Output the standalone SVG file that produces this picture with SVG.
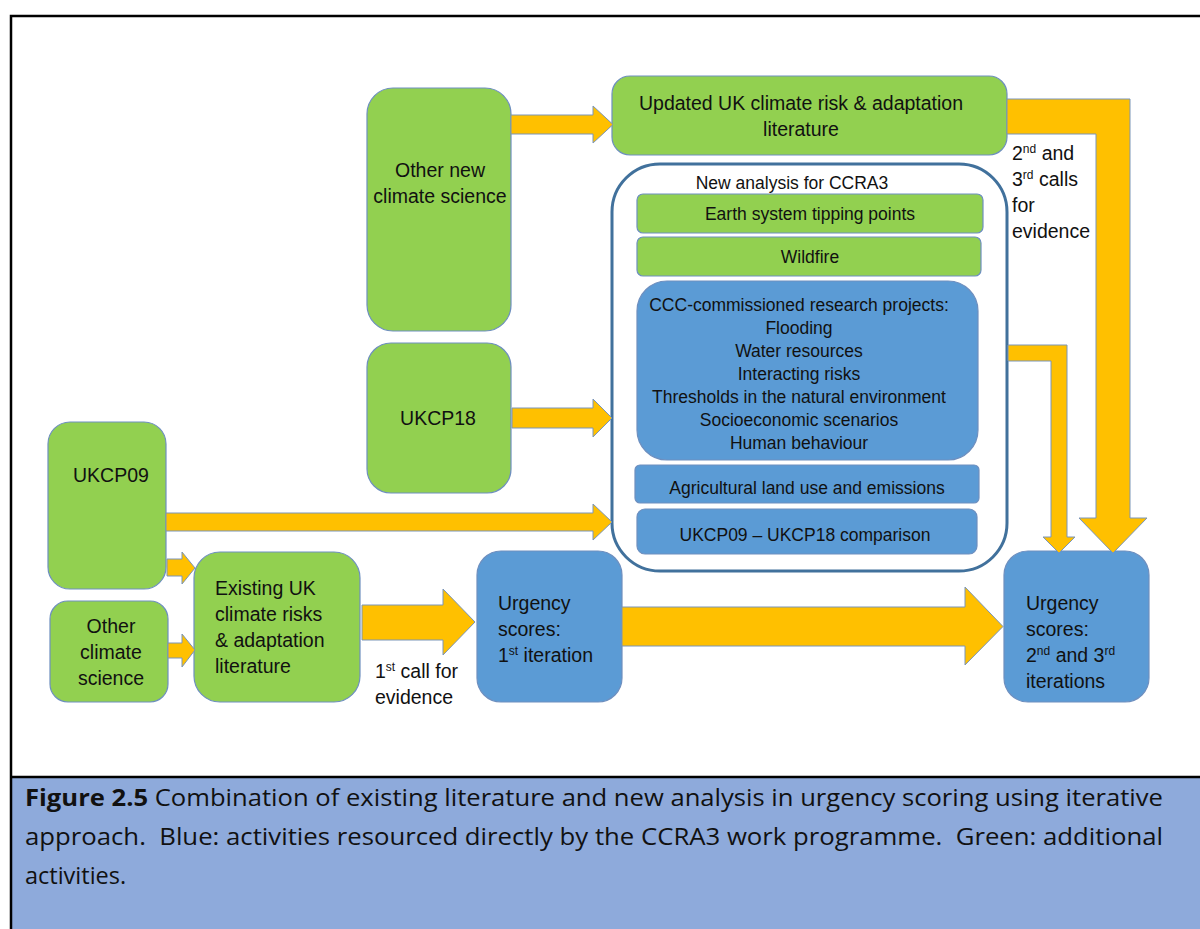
<svg xmlns="http://www.w3.org/2000/svg" width="1200" height="929" viewBox="0 0 1200 929">
  <style>
    .green { fill: #92D050; stroke: #6E8FBF; stroke-width: 1.2; }
    .blue { fill: #5B9BD5; stroke: #6E8FBF; stroke-width: 1.2; }
    .arrow { fill: #FFC000; stroke: #7A95B8; stroke-width: 1; }
    text { font-family: "Liberation Sans", Arial, sans-serif; fill: #111111; }
    .t { font-size: 19.5px; }
    .s { font-size: 17.5px; }
    .c { text-anchor: middle; }
    .cap { font-family: "Open Sans", "Liberation Sans", sans-serif; font-size: 23.5px; }
  </style>

  <!-- page background and frame -->
  <rect x="0" y="0" width="1200" height="929" fill="#FFFFFF"/>
  <rect x="11" y="777" width="1195" height="160" fill="#8EAADB"/>
  <path d="M11,929 L11,16 L1200,16" fill="none" stroke="#000000" stroke-width="2.5"/>
  <path d="M11,777 L1200,777" fill="none" stroke="#000000" stroke-width="2.5"/>

  <!-- nodes -->
  <g id="other-new-climate-science">
    <rect class="green" x="367" y="88" width="144" height="243" rx="26"/>
    <text class="t c" x="440" y="177">Other new</text>
    <text class="t c" x="440" y="203">climate science</text>
  </g>

  <g id="updated-literature">
    <rect class="green" x="612" y="76" width="395" height="79" rx="18"/>
    <text class="t c" x="801" y="110">Updated UK climate risk &amp; adaptation</text>
    <text class="t c" x="801" y="136">literature</text>
  </g>

  <g id="new-analysis">
    <rect x="612" y="164" width="395" height="407" rx="48" fill="#FFFFFF" stroke="#41719C" stroke-width="3"/>
    <text class="s c" x="792" y="189">New analysis for CCRA3</text>
  </g>

  <g id="tipping-points">
    <rect class="green" x="637" y="194" width="346" height="39" rx="6"/>
    <text class="s c" x="810" y="220">Earth system tipping points</text>
  </g>

  <g id="wildfire">
    <rect class="green" x="637" y="237" width="344" height="39" rx="6"/>
    <text class="s c" x="810" y="263">Wildfire</text>
  </g>

  <g id="ccc-research">
    <rect class="blue" x="637" y="281" width="341" height="179" rx="30"/>
    <text class="s c" x="799" y="311">CCC-commissioned research projects:</text>
    <text class="s c" x="799" y="334">Flooding</text>
    <text class="s c" x="799" y="357">Water resources</text>
    <text class="s c" x="799" y="380">Interacting risks</text>
    <text class="s c" x="799" y="403">Thresholds in the natural environment</text>
    <text class="s c" x="799" y="426">Socioeconomic scenarios</text>
    <text class="s c" x="799" y="449">Human behaviour</text>
  </g>

  <g id="agricultural">
    <rect class="blue" x="635" y="465" width="344" height="38" rx="5"/>
    <text class="s c" x="807" y="494">Agricultural land use and emissions</text>
  </g>

  <g id="ukcp-comparison">
    <rect class="blue" x="637" y="509" width="340" height="45" rx="8"/>
    <text class="s c" x="805" y="541">UKCP09 – UKCP18 comparison</text>
  </g>

  <g id="ukcp18">
    <rect class="green" x="367" y="343" width="144" height="150" rx="24"/>
    <text class="t c" x="438" y="425">UKCP18</text>
  </g>

  <g id="ukcp09">
    <rect class="green" x="48" y="422" width="118" height="167" rx="22"/>
    <text class="t" x="73" y="482">UKCP09</text>
  </g>

  <g id="other-climate-science">
    <rect class="green" x="50" y="601" width="118" height="101" rx="18"/>
    <text class="t c" x="111" y="633">Other</text>
    <text class="t c" x="111" y="659">climate</text>
    <text class="t c" x="111" y="685">science</text>
  </g>

  <g id="existing-literature">
    <rect class="green" x="194" y="552" width="166" height="150" rx="26"/>
    <text class="t" x="215" y="595">Existing UK</text>
    <text class="t" x="215" y="621">climate risks</text>
    <text class="t" x="215" y="647">&amp; adaptation</text>
    <text class="t" x="215" y="673">literature</text>
  </g>

  <g id="urgency-first">
    <rect class="blue" x="477" y="551" width="145" height="151" rx="24"/>
    <text class="t" x="498" y="610">Urgency</text>
    <text class="t" x="498" y="636">scores:</text>
    <text class="t" x="498" y="662">1<tspan font-size="12" dy="-7">st</tspan><tspan dy="7"> iteration</tspan></text>
  </g>

  <g id="urgency-later">
    <rect class="blue" x="1004" y="551" width="145" height="151" rx="24"/>
    <text class="t" x="1026" y="610">Urgency</text>
    <text class="t" x="1026" y="636">scores:</text>
    <text class="t" x="1026" y="662">2<tspan font-size="12" dy="-7">nd</tspan><tspan dy="7"> and 3</tspan><tspan font-size="12" dy="-7">rd</tspan></text>
    <text class="t" x="1026" y="688">iterations</text>
  </g>

  <!-- connectors -->
  <g id="connectors">
    <path class="arrow" d="M511,115 L593,115 L593,106 L613,124.5 L593,143 L593,134 L511,134 Z"/>
    <path class="arrow" d="M512,408 L593,408 L593,399 L612,418 L593,437 L593,428 L512,428 Z"/>
    <path class="arrow" d="M166,513 L593,513 L593,504 L612,522 L593,540 L593,531 L166,531 Z"/>
    <path class="arrow" d="M167,559 L182,559 L182,552 L195,568 L182,584 L182,576 L167,576 Z"/>
    <path class="arrow" d="M168,643 L182,643 L182,634 L195,650 L182,667 L182,658 L168,658 Z"/>
    <path class="arrow" d="M362,605 L443,605 L443,589 L475,622 L443,655 L443,640 L362,640 Z"/>
    <path class="arrow" d="M622,607 L965,607 L965,587 L1003,626.5 L965,665 L965,646 L622,646 Z"/>
    <path class="arrow" d="M1007,99 L1130,99 L1130,518 L1147,518 L1113,553 L1079,518 L1096,518 L1096,134 L1007,134 Z"/>
    <path class="arrow" d="M1008,345 L1067,345 L1067,537 L1075,537 L1059,553 L1043,537 L1051,537 L1051,361 L1008,361 Z"/>
  </g>

  <!-- connector labels -->
  <g id="labels">
    <text class="t" x="1012" y="160">2<tspan font-size="12" dy="-7">nd</tspan><tspan dy="7"> and</tspan></text>
    <text class="t" x="1012" y="186">3<tspan font-size="12" dy="-7">rd</tspan><tspan dy="7"> calls</tspan></text>
    <text class="t" x="1012" y="212">for</text>
    <text class="t" x="1012" y="238">evidence</text>
    <text class="t" x="375" y="678">1<tspan font-size="12" dy="-7">st</tspan><tspan dy="7"> call for</tspan></text>
    <text class="t" x="375" y="704">evidence</text>
  </g>

  <!-- caption -->
  <g id="caption">
    <text class="cap" x="25" y="806" textLength="1138" lengthAdjust="spacingAndGlyphs"><tspan font-weight="bold">Figure 2.5</tspan> Combination of existing literature and new analysis in urgency scoring using iterative</text>
    <text class="cap" x="25" y="845" textLength="1138" lengthAdjust="spacingAndGlyphs" xml:space="preserve">approach.  Blue: activities resourced directly by the CCRA3 work programme.  Green: additional</text>
    <text class="cap" x="25" y="884">activities.</text>
  </g>
</svg>
